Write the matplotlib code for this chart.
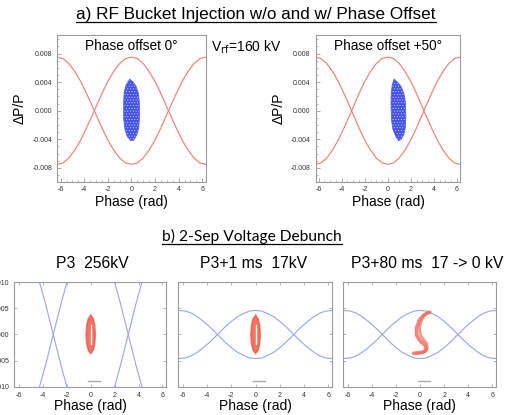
import numpy as np
import matplotlib
matplotlib.use("Agg")
import matplotlib.pyplot as plt
from matplotlib.lines import Line2D
from matplotlib.ticker import MultipleLocator

plt.rcParams['font.family'] = ['Liberation Sans', 'DejaVu Sans']
plt.rcParams['axes.unicode_minus'] = False
plt.rcParams['hatch.linewidth'] = 0.35

# separatrix, sampled phase (rad) and dP/P of the upper branch at phase 0
phase = [-6.28, -5.8, -5.3, -4.8, -4.3, -3.8, -3.14, -2.5, -2.0, -1.5, -1.0, -0.5, 0.0,
         0.5, 1.0, 1.5, 2.0, 2.5, 3.14, 3.8, 4.3, 4.8, 5.3, 5.8, 6.28]
sep_160kv = [-0.0075, -0.0073, -0.0066, -0.0055, -0.0041, -0.0024, 0.0, 0.0024, 0.0041, 0.0055,
             0.0066, 0.0073, 0.0075, 0.0073, 0.0066, 0.0055, 0.0041, 0.0024, 0.0, -0.0024,
             -0.0041, -0.0055, -0.0066, -0.0073, -0.0075]
sep_256kv = [-0.0185, -0.0180, -0.0163, -0.0136, -0.0101, -0.0060, 0.0, 0.0058, 0.0100, 0.0135,
             0.0162, 0.0179, 0.0185, 0.0179, 0.0162, 0.0135, 0.0100, 0.0058, 0.0, -0.0060,
             -0.0101, -0.0136, -0.0163, -0.0180, -0.0185]
sep_17kv = [-0.0046, -0.0045, -0.0041, -0.0034, -0.0025, -0.0015, 0.0, 0.0015, 0.0025, 0.0034,
            0.0040, 0.0045, 0.0046, 0.0045, 0.0040, 0.0034, 0.0025, 0.0015, 0.0, -0.0015,
            -0.0025, -0.0034, -0.0041, -0.0045, -0.0046]

# injected bunch outline (top panels)
cloud0_x = [-0.15, 0.15, 0.4, 0.6, 0.68, 0.68, 0.62, 0.45, 0.2, -0.05, -0.35, -0.55, -0.65, -0.66, -0.62, -0.45]
cloud0_y = [0.0044, 0.0040, 0.0034, 0.0024, 0.0010, -0.0010, -0.0024, -0.0034, -0.0041, -0.0042,
            -0.0036, -0.0026, -0.0012, 0.0010, 0.0025, 0.0036]
cloud50_x = [0.55, 0.85, 1.15, 1.4, 1.55, 1.57, 1.52, 1.38, 1.15, 0.95, 0.7, 0.45, 0.32, 0.28, 0.3, 0.4]
cloud50_y = [0.0044, 0.0040, 0.0034, 0.0024, 0.0010, -0.0010, -0.0024, -0.0034, -0.0040, -0.0042,
             -0.0036, -0.0026, -0.0012, 0.0010, 0.0025, 0.0037]

# debunched bunch (bottom panels)
ring_x = [0.0, 0.22, 0.34, 0.4, 0.34, 0.22, 0.0, -0.22, -0.34, -0.4, -0.34, -0.22, 0.0]
ring_y = [0.0037, 0.0030, 0.0018, 0.0, -0.0018, -0.0030, -0.0037, -0.0030, -0.0018, 0.0, 0.0018, 0.0030, 0.0037]
core_x = [0.0, 0.0]
core_y = [0.0018, -0.0018]
s_arm1_x = [0.8, 0.35, -0.05, -0.3, -0.28, 0.0, 0.38, 0.52, 0.35, -0.05, -0.55]
s_arm1_y = [0.0043, 0.0038, 0.0028, 0.0012, -0.0002, -0.0012, -0.0020, -0.0028, -0.0033, -0.0035, -0.0036]
s_arm2_x = [0.6, 0.3, 0.05, -0.05, 0.05, 0.3, 0.55, 0.6, 0.45, 0.1, -0.3]
s_arm2_y = [0.0042, 0.0035, 0.0024, 0.0010, -0.0002, -0.0010, -0.0017, -0.0026, -0.0032, -0.0035, -0.0036]

W, H = 505, 415
fig = plt.figure(figsize=(W / 100, H / 100), dpi=100)


def box(x0, y0, x1, y1):
    return [x0 / W, 1 - y1 / H, (x1 - x0) / W, (y1 - y0) / H]


def fpos(x, y):
    return x / W, 1 - y / H


red_sep = "#f27a6a"
blue_sep = "#95a4f2"
frame = "#9a9a9a"

# ---- top panels
for rect, cx, cy, label in [(box(57.3, 35, 206, 181.5), cloud0_x, cloud0_y, "Phase offset 0\u00b0"),
                            (box(315.5, 35, 460.5, 181.5), cloud50_x, cloud50_y, "Phase offset +50\u00b0")]:
    ax = fig.add_axes(rect)
    ax.plot(phase, sep_160kv, color=red_sep, lw=0.8)
    ax.plot(phase, -np.array(sep_160kv), color=red_sep, lw=0.8)
    ax.fill(cx, cy, color="#2233e6", alpha=0.85, lw=0)
    ax.fill(cx, cy, facecolor="none", edgecolor="#dfe3ff", hatch="......", lw=0)
    ax.plot(cx + cx[:1], cy + cy[:1], color="#5566f0", lw=0.6)
    ax.set_xlim(-6.28, 6.32)
    ax.set_ylim(-0.0099, 0.0106)
    ax.set_xticks([-6, -4, -2, 0, 2, 4, 6])
    ax.set_yticks([-0.008, -0.004, 0.0, 0.004, 0.008])
    ax.set_yticklabels(["-0.008", "-0.004", "0.000", "0.004", "0.008"])
    ax.xaxis.set_minor_locator(MultipleLocator(0.5))
    ax.yaxis.set_minor_locator(MultipleLocator(0.001))
    ax.tick_params(which="both", direction="in", labelsize=5, colors=frame, labelcolor="#333333")
    ax.tick_params(which="major", length=3, width=0.6)
    ax.tick_params(which="minor", length=1.5, width=0.5)
    for s in ax.spines.values():
        s.set_color(frame)
        s.set_linewidth(0.8)
    ax.set_xlabel("Phase (rad)", fontsize=10, labelpad=1)
    ax.set_ylabel("\u0394P/P", fontsize=10, labelpad=4)
    ax.text(0.5, 0.925, label, transform=ax.transAxes, ha="center", va="center", fontsize=9.8)

fig.text(*fpos(246, 47), "V$_{\\rm rf}$=160 kV", ha="center", va="center", fontsize=10)

# ---- bottom panels
bottom_specs = [
    (box(14.3, 282.3, 166, 386.7), sep_256kv, "P3  256kV", 92),
    (box(178, 282.3, 332, 386.7), sep_17kv, "P3+1 ms  17kV", 254),
    (box(343, 282.3, 496, 386.7), sep_17kv, "P3+80 ms  17 -> 0 kV", 427),
]
for i, (rect, sep, title, tx) in enumerate(bottom_specs):
    ax = fig.add_axes(rect)
    ax.plot(phase, sep, color=blue_sep, lw=0.8)
    ax.plot(phase, -np.array(sep), color=blue_sep, lw=0.8)
    if i < 2:
        ax.fill(ring_x, ring_y, color="#f25a48", alpha=0.85, lw=0)
        ax.plot(ring_x, ring_y, color="#f04030", lw=1.0, alpha=0.6)
        ax.plot(core_x, core_y, color="white", lw=1.0)
    else:
        ax.plot(s_arm1_x, s_arm1_y, color="#f25040", lw=2.6, alpha=0.7, solid_capstyle="round")
        ax.plot(s_arm2_x, s_arm2_y, color="#f46a58", lw=2.0, alpha=0.7, solid_capstyle="round")
    ax.plot([-0.2, 0.8], [-0.0089, -0.0089], color="#aaaaaa", lw=1.0)
    ax.set_xlim(-6.4, 6.3)
    ax.set_ylim(-0.010, 0.010)
    ax.set_xticks([-6, -4, -2, 0, 2, 4, 6])
    ax.set_yticks([-0.010, -0.005, 0.0, 0.005, 0.010])
    if i == 0:
        ax.set_yticklabels(["-0.010", "-0.005", "0.000", "0.005", "0.010"])
    else:
        ax.set_yticklabels([])
    ax.tick_params(direction="in", length=2, width=0.5, labelsize=5, colors=frame,
                   labelcolor="#333333", top=True, right=True)
    for s in ax.spines.values():
        s.set_color(frame)
        s.set_linewidth(0.8)
    ax.set_xlabel("Phase (rad)", fontsize=10, labelpad=0)
    fig.text(*fpos(tx, 264), title, ha="center", va="center", fontsize=11.3)

# ---- underlined headings
heads = [
    fig.text(*fpos(256, 14), "a) RF Bucket Injection w/o and w/ Phase Offset", ha="center", va="center",
             fontsize=12.3),
    fig.text(*fpos(252, 236), "b) 2-Sep Voltage Debunch", ha="center", va="center", fontsize=11.2,
             family=["Lato", "DejaVu Sans"]),
]
fig.canvas.draw()
r = fig.canvas.get_renderer()
for t in heads:
    bb = t.get_window_extent(renderer=r).transformed(fig.transFigure.inverted())
    fig.add_artist(Line2D([bb.x0, bb.x1], [bb.y0 - 0.002, bb.y0 - 0.002], color="black", lw=0.9,
                          transform=fig.transFigure))

fig.savefig("out.png", dpi=100)
